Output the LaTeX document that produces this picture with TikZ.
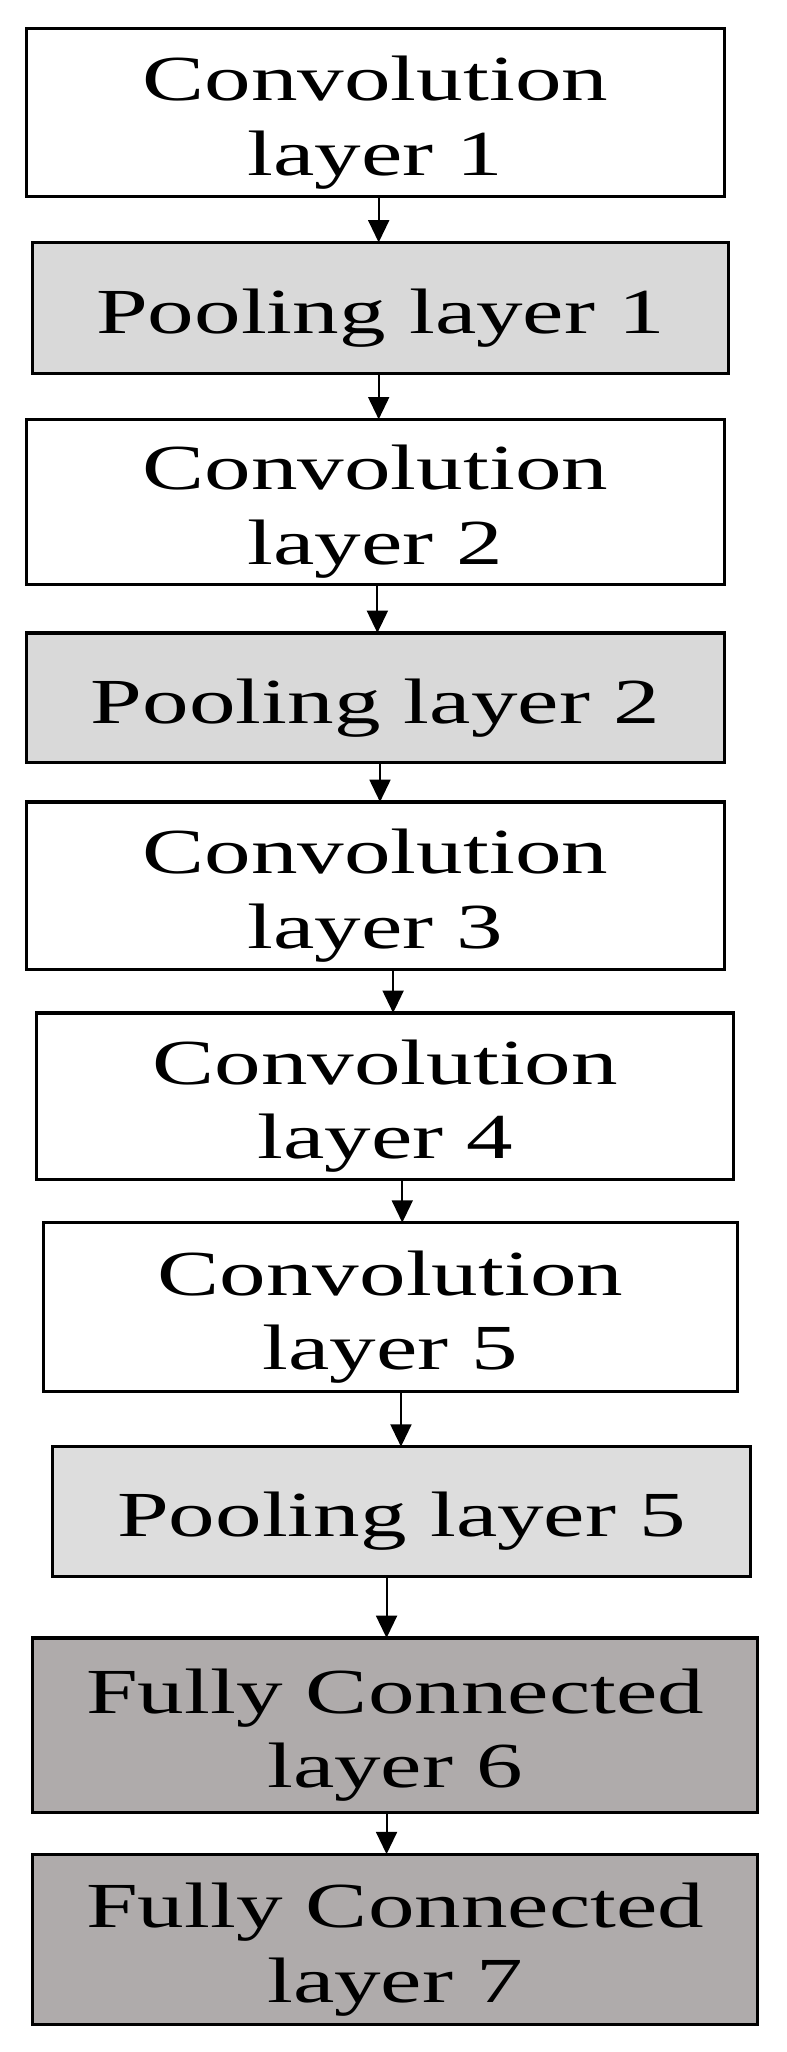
\documentclass[tikz,border=0pt]{standalone}
\usepackage{fontspec}
\setmainfont{Liberation Serif}
\usetikzlibrary{arrows.meta}
\definecolor{lg}{HTML}{D9D9D9}
\definecolor{dg}{HTML}{AFABAB}
\begin{document}
\begin{tikzpicture}[x=1pt,y=-1pt,
  box/.style={draw=black,line width=2.5pt,anchor=north west,inner sep=0pt},
  lbl/.style={font=\fontsize{49}{57}\selectfont,align=center,inner sep=0pt},
  arr/.style={line width=1.5pt,-{Triangle[length=17pt,width=16pt]}}]
\useasboundingbox (0,0) rectangle (600,1566);
\newcommand{\bx}[8]{% name, x1,y1,x2,y2, fill, text, arrow x
  \path[box,fill=#6] (#2,#3) rectangle (#4,#5);
  \node[lbl] (#1) at ({(#2+#4)/2},{(#3+#5)/2+8}) {\scalebox{1.45}[1]{\begin{tabular}{@{}c@{}}#7\end{tabular}}};
  \coordinate (#1t) at (#8,#3);
  \coordinate (#1b) at (#8,#5);}
\bx{b1}{20}{22}{553}{150}{white}{Convolution\\layer 1}{289}
\bx{b2}{25}{185}{556}{285}{lg}{Pooling layer 1}{289}
\bx{b3}{20}{320}{553}{446}{white}{Convolution\\layer 2}{289}
\bx{b4}{20}{483}{553}{582}{lg}{Pooling layer 2}{288}
\bx{b5}{20}{612}{553}{740}{white}{Convolution\\layer 3}{290}
\bx{b6}{28}{773}{560}{900}{white}{Convolution\\layer 4}{300}
\bx{b7}{33}{933}{563}{1062}{white}{Convolution\\layer 5}{307}
\bx{b8}{40}{1104}{573}{1203}{lg!90!white}{Pooling layer 5}{306}
\bx{b9}{25}{1250}{578}{1383}{dg}{Fully Connected\\layer 6}{295}
\bx{b10}{25}{1415}{578}{1545}{dg}{Fully Connected\\layer 7}{295}
\foreach \a/\b in {b1/b2,b2/b3,b3/b4,b4/b5,b5/b6,b6/b7,b7/b8,b8/b9,b9/b10}
  \draw[arr] (\b t |- \a b) -- (\b t);
\end{tikzpicture}
\end{document}
